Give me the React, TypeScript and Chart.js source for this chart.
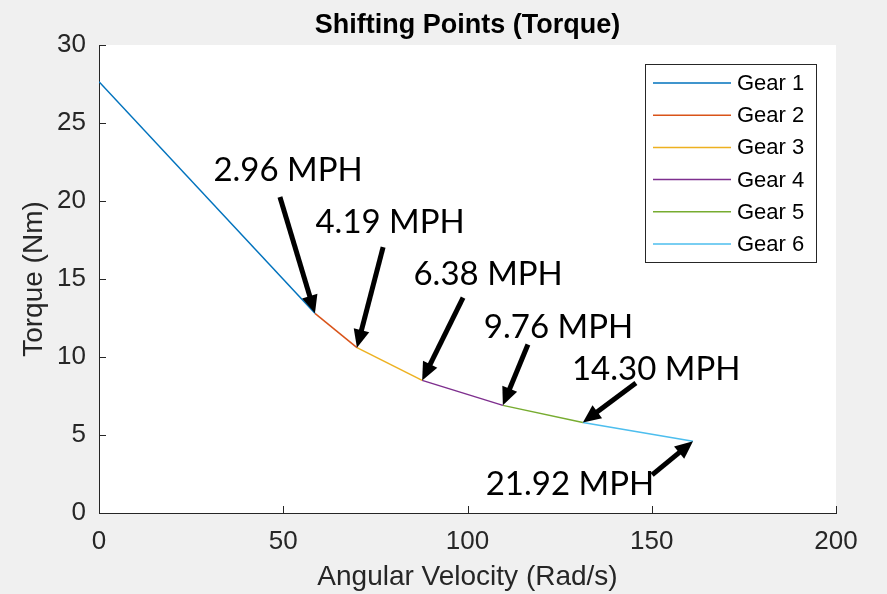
import { useEffect, useRef } from "react";
import { Chart, registerables } from "chart.js";

Chart.register(...registerables);

// Gear series: each gear runs from one shift point to the next.
const gearNames = ["Gear 1", "Gear 2", "Gear 3", "Gear 4", "Gear 5", "Gear 6"];
const gearColors = ["#0072BD", "#D95319", "#EDB120", "#7E2F8E", "#77AC30", "#4DBEEE"];

// Angular velocity (rad/s) and torque (Nm) at start and each shift point
const shiftSpeed = [0, 58.6, 70.0, 87.7, 109.6, 131.3, 161.2];
const shiftTorque = [27.65, 12.8, 10.6, 8.5, 6.9, 5.8, 4.6];

// Vehicle speed at each shift (one per gear end)
const shiftMph = ["2.96 MPH", "4.19 MPH", "6.38 MPH", "9.76 MPH", "14.30 MPH", "21.92 MPH"];

const xTickValues = [0, 50, 100, 150, 200];
const yTickValues = [0, 5, 10, 15, 20, 25, 30];

// Callout placement in data units: label anchor and arrow tail
const calloutLayout = [
  { textX: 51.3, textY: 21.3, tailX: 49.1, tailY: 20.26 },
  { textX: 79.0, textY: 17.95, tailX: 77.1, tailY: 17.05 },
  { textX: 105.6, textY: 14.6, tailX: 98.8, tailY: 13.8 },
  { textX: 124.7, textY: 11.2, tailX: 116.4, tailY: 10.8 },
  { textX: 151.2, textY: 8.53, tailX: 145.7, tailY: 8.33 },
  { textX: 127.8, textY: 1.15, tailX: 150.1, tailY: 2.44 },
];

const AXIS_COLOR = "#262626";
const MATLAB_FONT = "'Liberation Sans', Arial, Helvetica, sans-serif";
const CALLOUT_FONT = "Lato, 'Open Sans', sans-serif";

const backgroundPlugin = {
  id: "figureBackground",
  beforeDraw(chart: any) {
    const { ctx, chartArea, width, height } = chart;
    ctx.save();
    ctx.fillStyle = "#f0f0f0";
    ctx.fillRect(0, 0, width, height);
    ctx.fillStyle = "#ffffff";
    ctx.fillRect(chartArea.left, chartArea.top, chartArea.right - chartArea.left, chartArea.bottom - chartArea.top);
    ctx.restore();
  },
};

// MATLAB-style inward tick marks
const inwardTicksPlugin = {
  id: "inwardTicks",
  afterDatasetsDraw(chart: any) {
    const { ctx, chartArea, scales } = chart;
    const len = 7;
    ctx.save();
    ctx.strokeStyle = AXIS_COLOR;
    ctx.lineWidth = 1;
    ctx.beginPath();
    xTickValues.forEach((v) => {
      const px = Math.round(scales.x.getPixelForValue(v)) + 0.5;
      ctx.moveTo(px, chartArea.bottom);
      ctx.lineTo(px, chartArea.bottom - len);
    });
    yTickValues.forEach((v) => {
      const py = Math.round(scales.y.getPixelForValue(v)) + 0.5;
      ctx.moveTo(chartArea.left, py);
      ctx.lineTo(chartArea.left + len, py);
    });
    ctx.stroke();
    ctx.restore();
  },
};

function drawArrow(ctx: CanvasRenderingContext2D, x0: number, y0: number, x1: number, y1: number) {
  const headLen = 18;
  const headHalf = 8;
  const ang = Math.atan2(y1 - y0, x1 - x0);
  const bx = x1 - headLen * Math.cos(ang);
  const by = y1 - headLen * Math.sin(ang);
  ctx.beginPath();
  ctx.moveTo(x0, y0);
  ctx.lineTo(bx + Math.cos(ang) * 2, by + Math.sin(ang) * 2);
  ctx.lineWidth = 5;
  ctx.stroke();
  ctx.beginPath();
  ctx.moveTo(x1, y1);
  ctx.lineTo(bx + headHalf * Math.sin(ang), by - headHalf * Math.cos(ang));
  ctx.lineTo(bx - headHalf * Math.sin(ang), by + headHalf * Math.cos(ang));
  ctx.closePath();
  ctx.fill();
}

const calloutPlugin = {
  id: "shiftCallouts",
  afterDraw(chart: any) {
    const { ctx, chartArea, scales } = chart;
    const { x, y } = scales;
    ctx.save();

    // Title
    ctx.fillStyle = "#000000";
    ctx.font = `bold 27px ${MATLAB_FONT}`;
    ctx.textAlign = "center";
    ctx.textBaseline = "alphabetic";
    ctx.fillText("Shifting Points (Torque)", (chartArea.left + chartArea.right) / 2, 33);

    // Legend box
    const boxW = 171;
    const boxH = 198;
    const bx = chartArea.right - 20 - boxW;
    const by = chartArea.top + 19;
    ctx.fillStyle = "#ffffff";
    ctx.fillRect(bx, by, boxW, boxH);
    ctx.strokeStyle = AXIS_COLOR;
    ctx.lineWidth = 1;
    ctx.strokeRect(bx + 0.5, by + 0.5, boxW, boxH);
    ctx.font = `22px ${MATLAB_FONT}`;
    ctx.textAlign = "left";
    ctx.textBaseline = "middle";
    gearNames.forEach((name, i) => {
      const ry = by + 19 + i * 32.2;
      ctx.strokeStyle = gearColors[i];
      ctx.lineWidth = 1.5;
      ctx.beginPath();
      ctx.moveTo(bx + 8, ry);
      ctx.lineTo(bx + 86, ry);
      ctx.stroke();
      ctx.fillStyle = "#000000";
      ctx.fillText(name, bx + 92, ry + 1);
    });

    // Shift callouts
    ctx.fillStyle = "#000000";
    ctx.strokeStyle = "#000000";
    ctx.font = `33px ${CALLOUT_FONT}`;
    ctx.textAlign = "center";
    ctx.textBaseline = "alphabetic";
    shiftMph.forEach((label, i) => {
      const c = calloutLayout[i];
      ctx.fillText(label, x.getPixelForValue(c.textX), y.getPixelForValue(c.textY));
      drawArrow(
        ctx,
        x.getPixelForValue(c.tailX),
        y.getPixelForValue(c.tailY),
        x.getPixelForValue(shiftSpeed[i + 1]),
        y.getPixelForValue(shiftTorque[i + 1])
      );
    });
    ctx.restore();
  },
};

export default function App() {
  const canvasRef = useRef<HTMLCanvasElement>(null);

  useEffect(() => {
    if (!canvasRef.current) return;
    const datasets = gearNames.map((name, i) => ({
      label: name,
      data: [
        { x: shiftSpeed[i], y: shiftTorque[i] },
        { x: shiftSpeed[i + 1], y: shiftTorque[i + 1] },
      ],
      borderColor: gearColors[i],
      backgroundColor: gearColors[i],
      borderWidth: 1.5,
      pointRadius: 0,
      fill: false,
      tension: 0,
    }));

    const chart = new Chart(canvasRef.current, {
      type: "line",
      data: { datasets },
      options: {
        animation: false,
        responsive: false,
        layout: { padding: { top: 45, right: 51, left: 0, bottom: 0 } },
        plugins: {
          legend: { display: false },
          title: { display: false },
          tooltip: { enabled: false },
        },
        scales: {
          x: {
            type: "linear",
            min: 0,
            max: 200,
            afterFit: (s: any) => {
              s.height = 81;
            },
            afterBuildTicks: (s: any) => {
              s.ticks = xTickValues.map((v) => ({ value: v }));
            },
            ticks: {
              font: { family: MATLAB_FONT, size: 26 },
              color: AXIS_COLOR,
              padding: 13,
              maxRotation: 0,
            },
            grid: { display: false, drawTicks: false },
            border: { display: true, color: AXIS_COLOR, width: 1 },
            title: {
              display: true,
              text: "Angular Velocity (Rad/s)",
              font: { family: MATLAB_FONT, size: 28 },
              color: AXIS_COLOR,
              padding: { top: 0, bottom: 0 },
            },
          },
          y: {
            type: "linear",
            min: 0,
            max: 30,
            afterFit: (s: any) => {
              s.width = 99;
            },
            afterBuildTicks: (s: any) => {
              s.ticks = yTickValues.map((v) => ({ value: v }));
            },
            ticks: {
              font: { family: MATLAB_FONT, size: 26 },
              color: AXIS_COLOR,
              padding: 13,
            },
            grid: { display: false, drawTicks: false },
            border: { display: true, color: AXIS_COLOR, width: 1 },
            title: {
              display: true,
              text: "Torque (Nm)",
              font: { family: MATLAB_FONT, size: 28 },
              color: AXIS_COLOR,
              padding: { top: 17, bottom: 0 },
            },
          },
        },
      },
      plugins: [backgroundPlugin, inwardTicksPlugin, calloutPlugin],
    });

    return () => chart.destroy();
  }, []);

  return (
    <div style={{ position: "absolute", left: 0, top: 0, width: 887, height: 594 }}>
      <canvas ref={canvasRef} width={887} height={594} style={{ display: "block" }} />
    </div>
  );
}
